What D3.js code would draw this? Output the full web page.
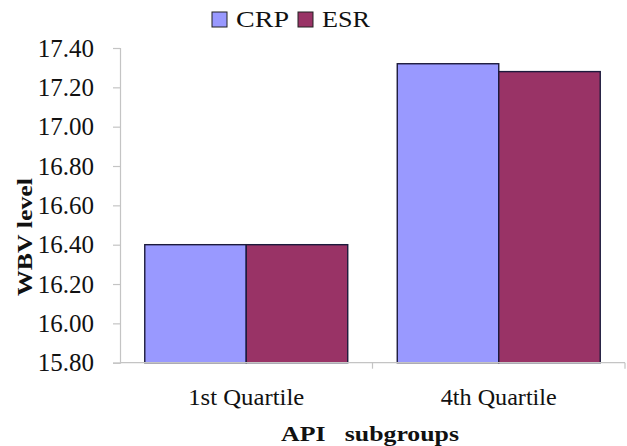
<!DOCTYPE html>
<html>
<head>
<meta charset="utf-8">
<script src="https://cdn.jsdelivr.net/npm/d3@7"></script>
<style>
  html, body { margin: 0; padding: 0; background: #fff; }
  svg { display: block; }
</style>
</head>
<body>
<svg id="chart" width="627" height="446"></svg>
<script>
// Quartile groups and series
const categories = ["1st Quartile", "4th Quartile"];
const seriesNames = ["CRP", "ESR"];
const crpValues = [16.40, 17.32];
const esrValues = [16.40, 17.28];
const yTicks = [15.80, 16.00, 16.20, 16.40, 16.60, 16.80, 17.00, 17.20, 17.40];
const colors = { CRP: "#9999FF", ESR: "#993366" };

const rows = categories.map((c, i) => ({
  category: c,
  values: [
    { key: "CRP", value: crpValues[i] },
    { key: "ESR", value: esrValues[i] }
  ]
}));

const svg = d3.select("#chart");
const plotLeft = 120, plotRight = 625, plotTop = 48, plotBottom = 362.7;
const axisColor = "#c4c4c4";

const y = d3.scaleLinear().domain([15.8, 17.4]).range([plotBottom, plotTop]);
const x0 = d3.scaleBand().domain(categories).range([plotLeft, plotRight]).padding(0);
const x1 = d3.scaleBand().domain(seriesNames).range([0, x0.bandwidth()])
  .paddingInner(0).paddingOuter(0.244);

// Y axis: labels in plain serif, no transform
const yAxis = svg.append("g")
  .attr("transform", `translate(${plotLeft},0)`)
  .call(d3.axisLeft(y).tickValues(yTicks).tickFormat(d3.format(".2f"))
    .tickSize(7).tickPadding(19));
yAxis.attr("font-family", "Liberation Serif").attr("font-size", 25);
yAxis.select(".domain").attr("stroke", axisColor).attr("stroke-width", 1.2);
yAxis.selectAll(".tick line").attr("stroke", axisColor).attr("stroke-width", 1.2);
yAxis.selectAll(".tick text").attr("fill", "#111");

// Bars
const groups = svg.append("g").selectAll("g")
  .data(rows).join("g")
  .attr("transform", d => `translate(${x0(d.category)},0)`);
groups.selectAll("rect")
  .data(d => d.values).join("rect")
  .attr("x", d => x1(d.key))
  .attr("width", x1.bandwidth())
  .attr("y", d => y(d.value))
  .attr("height", d => y(15.8) - y(d.value))
  .attr("fill", d => colors[d.key])
  .attr("stroke", "#1c1a3c")
  .attr("stroke-width", 1.4);

// X axis line with ticks on category boundaries
const xAxis = svg.append("g");
xAxis.append("line")
  .attr("x1", plotLeft).attr("x2", plotRight)
  .attr("y1", plotBottom).attr("y2", plotBottom)
  .attr("stroke", axisColor).attr("stroke-width", 1.2);
const bounds = categories.map(c => x0(c)).concat([x0(categories[categories.length - 1]) + x0.bandwidth()]);
xAxis.selectAll("line.tk")
  .data(bounds.slice(1)).join("line")
  .attr("class", "tk")
  .attr("x1", d => d).attr("x2", d => d)
  .attr("y1", plotBottom).attr("y2", plotBottom + 6)
  .attr("stroke", axisColor).attr("stroke-width", 1.2);
// category labels stretched with textLength
xAxis.selectAll("text")
  .data(categories).join("text")
  .attr("x", d => x0(d) + x0.bandwidth() / 2)
  .attr("y", 405)
  .attr("text-anchor", "middle")
  .attr("font-family", "Liberation Serif")
  .attr("font-size", 23)
  .attr("textLength", 116)
  .attr("lengthAdjust", "spacingAndGlyphs")
  .attr("fill", "#111")
  .text(d => d);

// Axis titles
svg.append("text")
  .attr("x", 370).attr("y", 441)
  .attr("text-anchor", "middle")
  .attr("font-family", "Liberation Serif")
  .attr("font-size", 22)
  .attr("font-weight", "bold")
  .attr("textLength", 178)
  .attr("lengthAdjust", "spacingAndGlyphs")
  .style("white-space", "pre")
  .attr("fill", "#111")
  .text("API   subgroups");

svg.append("text")
  .attr("transform", "translate(32,237) rotate(-90)")
  .attr("text-anchor", "middle")
  .attr("font-family", "Liberation Serif")
  .attr("font-size", 22)
  .attr("font-weight", "bold")
  .attr("textLength", 118)
  .attr("lengthAdjust", "spacingAndGlyphs")
  .attr("fill", "#111")
  .text("WBV level");

// Legend
const legendX = [212, 298];
const legendTextLen = [53, 48];
const legend = svg.append("g").selectAll("g")
  .data(seriesNames).join("g")
  .attr("transform", (d, i) => `translate(${legendX[i]},12)`);
legend.append("rect")
  .attr("width", 15).attr("height", 15)
  .attr("fill", d => colors[d])
  .attr("stroke", "#222").attr("stroke-width", 1);
legend.append("text")
  .attr("x", 24).attr("y", 15)
  .attr("font-family", "Liberation Serif")
  .attr("font-size", 23)
  .attr("textLength", (d, i) => legendTextLen[i])
  .attr("lengthAdjust", "spacingAndGlyphs")
  .attr("fill", "#111")
  .text(d => d);
</script>
</body>
</html>
